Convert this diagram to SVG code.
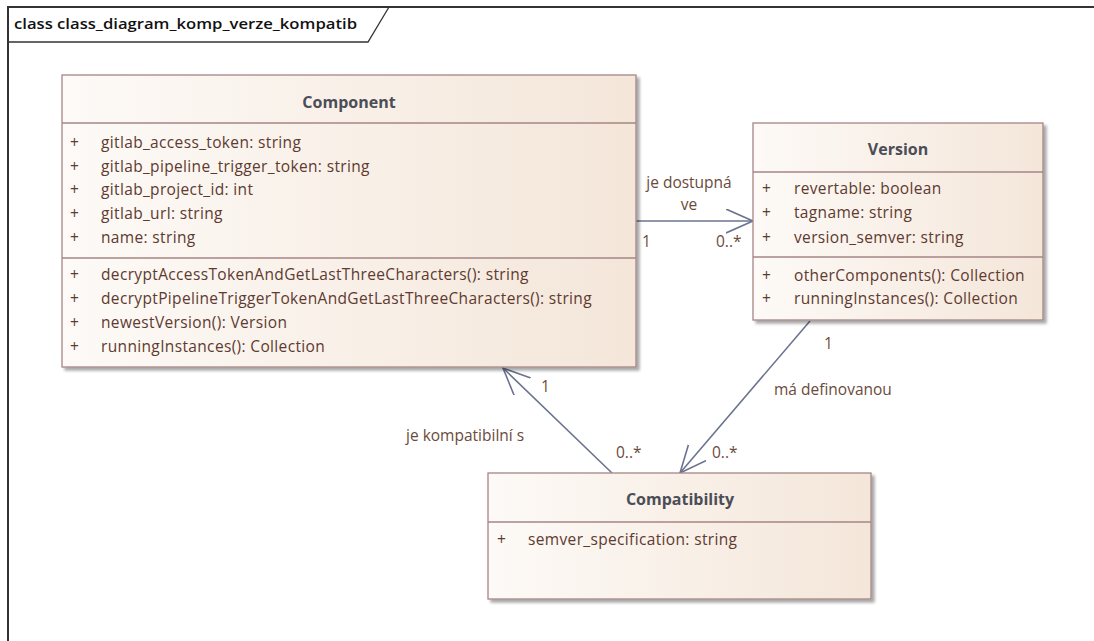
<svg xmlns="http://www.w3.org/2000/svg" width="1094" height="641" viewBox="0 0 1094 641">
  <defs>
    <linearGradient id="boxFill" x1="0" y1="0" x2="1" y2="0">
      <stop offset="0" stop-color="#fdfaf7"/>
      <stop offset="1" stop-color="#f4e6d9"/>
    </linearGradient>
    <filter id="shadow" x="-5%" y="-5%" width="115%" height="115%">
      <feGaussianBlur in="SourceAlpha" stdDeviation="1.5"/>
      <feOffset dx="3" dy="3" result="off"/>
      <feComponentTransfer><feFuncA type="linear" slope="0.35"/></feComponentTransfer>
      <feMerge><feMergeNode/><feMergeNode in="SourceGraphic"/></feMerge>
    </filter>
    <marker id="open" markerWidth="30" markerHeight="30" refX="27" refY="12" orient="auto" markerUnits="userSpaceOnUse">
      <path d="M0,0 L27,12 L0,24" fill="none" stroke="#6b7390" stroke-width="1.6"/>
    </marker>
  </defs>
  <style>
    .box { fill: url(#boxFill); stroke: #a58686; stroke-width: 1.3; filter: url(#shadow); }
    .sep { stroke: #a58686; stroke-width: 1.3; }
    .title { font-family: "Open Sans", "Noto Sans", sans-serif; font-size: 16px; font-weight: 700; fill: #4b4d57; text-anchor: middle; }
    .m { font-family: "Open Sans", "Noto Sans", sans-serif; font-size: 15.5px; letter-spacing: 0.35px; fill: #5e3a30; }
    .lbl { font-family: "Open Sans", "Noto Sans", sans-serif; font-size: 15.5px; fill: #6b4a3c; }
    .conn { stroke: #6b7390; stroke-width: 1.6; fill: none; }
  </style>

  <rect width="1094" height="641" fill="#ffffff"/>

  <!-- diagram frame -->
  <g id="frame">
    <path d="M8,641 L8,7 L1094,7" fill="none" stroke="#333333" stroke-width="2"/>
    <path d="M8,42 L368,42 L389,7" fill="none" stroke="#333333" stroke-width="1.3"/>
    <text x="14" y="29" font-family="Open Sans, Noto Sans, sans-serif" font-size="14px" font-weight="600" fill="#111111" textLength="343" lengthAdjust="spacingAndGlyphs">class class_diagram_komp_verze_kompatib</text>
  </g>

  <!-- associations -->
  <g id="connectors">
    <line class="conn" x1="636" y1="221" x2="753" y2="221" marker-end="url(#open)"/>
    <line class="conn" x1="612" y1="473" x2="503" y2="368" marker-end="url(#open)"/>
    <line class="conn" x1="810" y1="321" x2="680" y2="473" marker-end="url(#open)"/>

    <text class="lbl" x="689" y="188" text-anchor="middle">je dostupná</text>
    <text class="lbl" x="689" y="210" text-anchor="middle">ve</text>
    <text class="lbl" x="642" y="247">1</text>
    <text class="lbl" x="716" y="247">0..*</text>

    <text class="lbl" x="406" y="441">je kompatibilní s</text>
    <text class="lbl" x="541" y="392">1</text>
    <text class="lbl" x="616" y="458">0..*</text>

    <text class="lbl" x="774" y="395">má definovanou</text>
    <text class="lbl" x="824" y="349">1</text>
    <text class="lbl" x="712" y="458">0..*</text>
  </g>

  <!-- Component class -->
  <g id="component">
    <rect class="box" x="62" y="75" width="574" height="292"/>
    <line class="sep" x1="62" y1="123" x2="636" y2="123"/>
    <line class="sep" x1="62" y1="258" x2="636" y2="258"/>
    <text class="title" x="349" y="108">Component</text>
    <text class="m" x="70" y="148">+</text><text class="m" x="101" y="148">gitlab_access_token: string</text>
    <text class="m" x="70" y="172">+</text><text class="m" x="101" y="172">gitlab_pipeline_trigger_token: string</text>
    <text class="m" x="70" y="195">+</text><text class="m" x="101" y="195">gitlab_project_id: int</text>
    <text class="m" x="70" y="219">+</text><text class="m" x="101" y="219">gitlab_url: string</text>
    <text class="m" x="70" y="243">+</text><text class="m" x="101" y="243">name: string</text>
    <text class="m" x="70" y="280">+</text><text class="m" x="101" y="280">decryptAccessTokenAndGetLastThreeCharacters(): string</text>
    <text class="m" x="70" y="304">+</text><text class="m" x="101" y="304">decryptPipelineTriggerTokenAndGetLastThreeCharacters(): string</text>
    <text class="m" x="70" y="328">+</text><text class="m" x="101" y="328">newestVersion(): Version</text>
    <text class="m" x="70" y="352">+</text><text class="m" x="101" y="352">runningInstances(): Collection</text>
  </g>

  <!-- Version class -->
  <g id="version">
    <rect class="box" x="753" y="123" width="290" height="197"/>
    <line class="sep" x1="753" y1="172" x2="1043" y2="172"/>
    <line class="sep" x1="753" y1="257" x2="1043" y2="257"/>
    <text class="title" x="898" y="155">Version</text>
    <text class="m" x="762" y="194">+</text><text class="m" x="794" y="194">revertable: boolean</text>
    <text class="m" x="762" y="218">+</text><text class="m" x="794" y="218">tagname: string</text>
    <text class="m" x="762" y="243">+</text><text class="m" x="794" y="243">version_semver: string</text>
    <text class="m" x="762" y="281">+</text><text class="m" x="794" y="281">otherComponents(): Collection</text>
    <text class="m" x="762" y="304">+</text><text class="m" x="794" y="304">runningInstances(): Collection</text>
  </g>

  <!-- Compatibility class -->
  <g id="compatibility">
    <rect class="box" x="488" y="473" width="383" height="126"/>
    <line class="sep" x1="488" y1="522" x2="871" y2="522"/>
    <text class="title" x="680" y="505">Compatibility</text>
    <text class="m" x="497" y="545">+</text><text class="m" x="528" y="545">semver_specification: string</text>
  </g>
</svg>
